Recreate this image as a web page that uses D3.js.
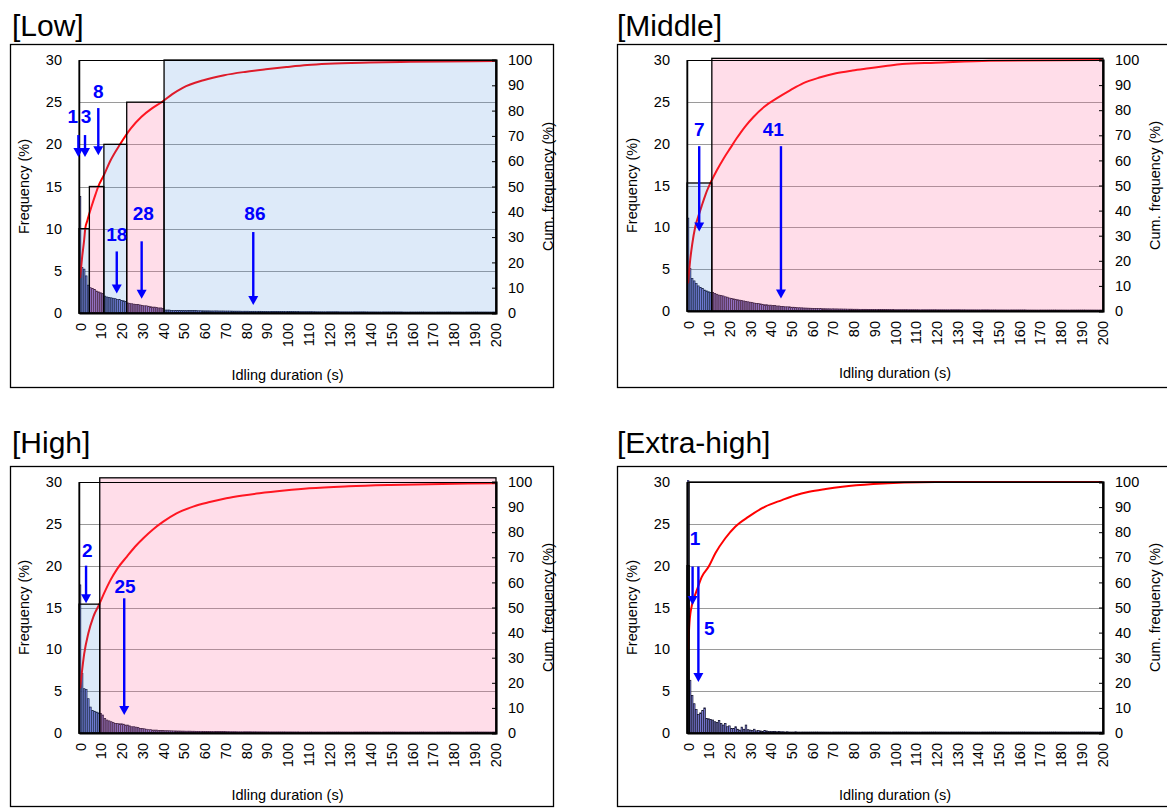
<!DOCTYPE html>
<html>
<head>
<meta charset="utf-8">
<script src="https://cdn.jsdelivr.net/npm/d3@7"></script>
<style>
  body { margin: 0; background: #fff; }
  svg text { font-family: Arial, "Liberation Sans", sans-serif; }
</style>
</head>
<body>
<svg id="chart" width="1167" height="809"></svg>
<script>
// ---- data ----
const panelTitles = ['[Low]', '[Middle]', '[High]', '[Extra-high]'];
const xTickLabels = [0, 10, 20, 30, 40, 50, 60, 70, 80, 90, 100, 110, 120, 130, 140, 150, 160, 170, 180, 190, 200];
const freqTicks = [0, 5, 10, 15, 20, 25, 30];
const cumTicks = [0, 10, 20, 30, 40, 50, 60, 70, 80, 90, 100];

// frequency (%) per 1 s bin, 0..200 s
const freqLow = [
  13.8, 5.4, 5.2, 4.4, 3.3, 3.0, 2.9, 2.8, 2.6, 2.5,
  2.4, 2.3, 2.0, 1.9, 1.85, 1.8, 1.75, 1.7, 1.6, 1.6,
  1.5, 1.45, 1.35, 1.2, 1.15, 1.1, 1.05, 1.0, 1.0, 0.95,
  0.9, 0.85, 0.85, 0.8, 0.75, 0.7, 0.7, 0.65, 0.6, 0.6,
  0.55, 0.35, 0.35, 0.35, 0.3, 0.3, 0.3, 0.3, 0.3, 0.3,
  0.3, 0.3, 0.3, 0.28, 0.28, 0.28, 0.28, 0.27, 0.27, 0.27,
  0.26, 0.26, 0.26, 0.25, 0.25, 0.25, 0.25, 0.24, 0.24, 0.24,
  0.23, 0.23, 0.23, 0.23, 0.22, 0.22, 0.22, 0.22, 0.21, 0.21,
  0.21, 0.21, 0.2, 0.2, 0.2, 0.2, 0.2, 0.2, 0.19, 0.19,
  0.19, 0.19, 0.19, 0.18, 0.18, 0.18, 0.18, 0.18, 0.18, 0.17,
  0.17, 0.17, 0.17, 0.17, 0.17, 0.17, 0.16, 0.16, 0.16, 0.16,
  0.16, 0.16, 0.16, 0.16, 0.15, 0.15, 0.15, 0.15, 0.15, 0.15,
  0.15, 0.15, 0.15, 0.15, 0.15, 0.14, 0.14, 0.14, 0.14, 0.14,
  0.14, 0.14, 0.14, 0.14, 0.14, 0.14, 0.14, 0.14, 0.13, 0.13,
  0.13, 0.13, 0.13, 0.13, 0.13, 0.13, 0.13, 0.13, 0.13, 0.13,
  0.13, 0.13, 0.13, 0.13, 0.13, 0.13, 0.12, 0.12, 0.12, 0.12,
  0.12, 0.12, 0.12, 0.12, 0.12, 0.12, 0.12, 0.12, 0.12, 0.12,
  0.12, 0.12, 0.12, 0.12, 0.12, 0.12, 0.12, 0.12, 0.12, 0.12,
  0.12, 0.12, 0.12, 0.12, 0.12, 0.12, 0.12, 0.12, 0.12, 0.12,
  0.12, 0.12, 0.12, 0.12, 0.12, 0.12, 0.12, 0.12, 0.12, 0.12,
  0.12
];
const freqMiddle = [
  11.1, 5.1, 3.9, 3.6, 3.3, 3.0, 2.8, 2.7, 2.5, 2.4,
  2.3, 2.2, 2.2, 2.1, 2.0, 1.9, 1.85, 1.8, 1.7, 1.65,
  1.55, 1.5, 1.45, 1.4, 1.35, 1.3, 1.25, 1.2, 1.15, 1.1,
  1.05, 1.0, 0.95, 0.9, 0.9, 0.85, 0.8, 0.75, 0.75, 0.7,
  0.7, 0.65, 0.65, 0.6, 0.6, 0.55, 0.55, 0.5, 0.5, 0.5,
  0.45, 0.45, 0.42, 0.4, 0.4, 0.38, 0.36, 0.35, 0.34, 0.33,
  0.32, 0.31, 0.3, 0.3, 0.29, 0.28, 0.28, 0.27, 0.27, 0.26,
  0.26, 0.25, 0.25, 0.24, 0.24, 0.23, 0.23, 0.22, 0.22, 0.22,
  0.21, 0.21, 0.21, 0.2, 0.2, 0.2, 0.2, 0.19, 0.19, 0.19,
  0.19, 0.18, 0.18, 0.18, 0.18, 0.17, 0.17, 0.17, 0.17, 0.17,
  0.16, 0.16, 0.16, 0.16, 0.16, 0.16, 0.16, 0.16, 0.16, 0.16,
  0.16, 0.16, 0.15, 0.15, 0.15, 0.15, 0.15, 0.15, 0.15, 0.15,
  0.15, 0.15, 0.15, 0.15, 0.15, 0.15, 0.15, 0.15, 0.15, 0.15,
  0.15, 0.15, 0.14, 0.14, 0.14, 0.14, 0.14, 0.14, 0.14, 0.14,
  0.14, 0.14, 0.14, 0.14, 0.14, 0.14, 0.13, 0.13, 0.13, 0.13,
  0.13, 0.13, 0.13, 0.13, 0.13, 0.13, 0.13, 0.13, 0.13, 0.13,
  0.13, 0.13, 0.13, 0.13, 0.12, 0.12, 0.12, 0.12, 0.12, 0.12,
  0.12, 0.12, 0.12, 0.12, 0.12, 0.12, 0.12, 0.12, 0.12, 0.12,
  0.12, 0.12, 0.12, 0.12, 0.12, 0.12, 0.12, 0.12, 0.12, 0.12,
  0.12, 0.12, 0.12, 0.12, 0.12, 0.12, 0.12, 0.12, 0.12, 0.12,
  0.12
];
const freqHigh = [
  17.7, 7.1, 5.3, 5.2, 4.1, 3.1, 2.7, 2.6, 2.5, 2.4,
  2.35, 2.15, 1.75, 1.55, 1.45, 1.35, 1.25, 1.15, 1.15, 1.1,
  1.1, 1.05, 0.95, 0.95, 0.85, 0.75, 0.75, 0.7, 0.65, 0.55,
  0.55, 0.5, 0.45, 0.4, 0.4, 0.35, 0.35, 0.35, 0.3, 0.3,
  0.3, 0.28, 0.28, 0.27, 0.26, 0.25, 0.25, 0.24, 0.24, 0.23,
  0.23, 0.22, 0.22, 0.22, 0.21, 0.21, 0.2, 0.2, 0.2, 0.2,
  0.19, 0.19, 0.19, 0.18, 0.18, 0.18, 0.18, 0.17, 0.17, 0.17,
  0.17, 0.16, 0.16, 0.16, 0.16, 0.16, 0.15, 0.15, 0.15, 0.15,
  0.15, 0.15, 0.15, 0.14, 0.14, 0.14, 0.14, 0.14, 0.14, 0.14,
  0.14, 0.14, 0.13, 0.13, 0.13, 0.13, 0.13, 0.13, 0.13, 0.13,
  0.13, 0.13, 0.13, 0.13, 0.13, 0.13, 0.12, 0.12, 0.12, 0.12,
  0.12, 0.12, 0.12, 0.12, 0.12, 0.12, 0.12, 0.12, 0.12, 0.12,
  0.12, 0.12, 0.12, 0.12, 0.12, 0.12, 0.12, 0.12, 0.12, 0.12,
  0.12, 0.12, 0.12, 0.12, 0.12, 0.12, 0.12, 0.12, 0.12, 0.12,
  0.12, 0.12, 0.12, 0.12, 0.12, 0.12, 0.12, 0.12, 0.12, 0.12,
  0.12, 0.12, 0.12, 0.12, 0.12, 0.12, 0.12, 0.12, 0.12, 0.12,
  0.12, 0.12, 0.12, 0.12, 0.12, 0.12, 0.12, 0.12, 0.12, 0.12,
  0.12, 0.12, 0.12, 0.12, 0.12, 0.12, 0.12, 0.12, 0.12, 0.12,
  0.12, 0.12, 0.12, 0.12, 0.12, 0.12, 0.12, 0.12, 0.12, 0.12,
  0.12, 0.12, 0.12, 0.12, 0.12, 0.12, 0.12, 0.12, 0.12, 0.12,
  0.12
];
const freqExtra = [
  33.0, 6.3, 4.5, 3.5, 2.8, 2.2, 2.4, 2.7, 3.0, 1.75,
  1.7, 1.6, 1.55, 1.35, 1.25, 1.5, 1.15, 0.95, 1.15, 0.75,
  0.85, 0.55, 0.55, 0.75, 0.45, 0.35, 0.7, 0.45, 0.95, 0.4,
  0.35, 0.3, 0.45, 0.25, 0.3, 0.25, 0.2, 0.3, 0.25, 0.2,
  0.2, 0.18, 0.2, 0.15, 0.18, 0.15, 0.15, 0.12, 0.15, 0.12,
  0.12, 0.12, 0.15, 0.12, 0.12, 0.12, 0.12, 0.12, 0.12, 0.12,
  0.12, 0.12, 0.12, 0.12, 0.12, 0.12, 0.12, 0.12, 0.12, 0.12,
  0.12, 0.12, 0.12, 0.12, 0.12, 0.12, 0.12, 0.12, 0.12, 0.12,
  0.12, 0.12, 0.12, 0.12, 0.12, 0.12, 0.12, 0.12, 0.12, 0.12,
  0.12, 0.12, 0.12, 0.12, 0.12, 0.12, 0.12, 0.12, 0.12, 0.12,
  0.12, 0.12, 0.12, 0.12, 0.12, 0.12, 0.12, 0.12, 0.12, 0.12,
  0.12, 0.12, 0.12, 0.12, 0.12, 0.12, 0.12, 0.12, 0.12, 0.12,
  0.12, 0.12, 0.12, 0.12, 0.12, 0.12, 0.12, 0.12, 0.12, 0.12,
  0.12, 0.12, 0.12, 0.12, 0.12, 0.12, 0.12, 0.12, 0.12, 0.12,
  0.12, 0.12, 0.12, 0.12, 0.12, 0.12, 0.12, 0.12, 0.12, 0.12,
  0.12, 0.12, 0.12, 0.12, 0.12, 0.12, 0.12, 0.12, 0.12, 0.12,
  0.12, 0.12, 0.12, 0.12, 0.12, 0.12, 0.12, 0.12, 0.12, 0.12,
  0.12, 0.12, 0.12, 0.12, 0.12, 0.12, 0.12, 0.12, 0.12, 0.12,
  0.12, 0.12, 0.12, 0.12, 0.12, 0.12, 0.12, 0.12, 0.12, 0.12,
  0.12, 0.12, 0.12, 0.12, 0.12, 0.12, 0.12, 0.12, 0.12, 0.12,
  0.12
];

// cumulative frequency (%): [duration position, %]
const cumLow = [[0.5, 13.8], [1.5, 22], [2.5, 29], [3, 33.3], [4, 36.5], [6, 42], [8, 47], [9.3, 50], [12, 54.5],
  [15, 60], [19.8, 66.7], [25, 73], [30, 77.5], [35, 80.8], [39.8, 83.3], [45, 86.5], [50, 89], [60, 92], [70, 94],
  [80, 95.3], [90, 96.3], [100, 97.2], [110, 98], [120, 98.5], [140, 99], [160, 99.3], [200.5, 99.6]];
const cumMiddle = [[0.5, 11], [1.5, 20], [2.5, 26.5], [4, 33.6], [5.5, 37.8], [7, 41.6], [9, 46.5], [11.9, 52],
  [14.5, 56.2], [17.5, 60.5], [21, 65], [24, 68.8], [28, 73.4], [32, 77.2], [37.5, 81.5], [43.3, 84.7], [50, 88],
  [56, 90.7], [64, 93], [72, 94.7], [80, 95.8], [88, 96.7], [96, 97.6], [104, 98.4], [120, 98.9], [146, 99.7], [200.5, 100]];
const cumHigh = [[0.5, 17.8], [1.5, 25], [2.5, 31.5], [4.5, 39.7], [6.9, 46.3], [9.8, 51.3], [12, 55.5], [14.9, 60.5],
  [18.5, 65.5], [23, 70.2], [27, 74.2], [31, 77.6], [35.5, 81], [40.6, 84.2], [47, 87.5], [55, 90.2], [63, 92], [71, 93.5],
  [79, 94.6], [87, 95.5], [99, 96.6], [111, 97.5], [130, 98.3], [150, 98.8], [175, 99.2], [200.5, 99.5]];
const cumExtra = [[0.5, 33.1], [1.2, 44], [2.4, 51], [3.5, 54], [4.8, 57], [7.2, 62.3], [10.5, 66.3], [13.7, 71.6],
  [18.5, 77.6], [23.3, 82.2], [29.8, 86.2], [37.8, 90.2], [45.9, 92.8], [52, 94.6], [59, 96.1], [67, 97.2], [75, 98.1],
  [90, 99.2], [105, 99.8], [120, 100], [200.5, 100]];

// shaded groups: [from, to, height (%), kind]
const boxesLow = [[0, 5, 10, 'b'], [5, 12, 15, 'p'], [12, 23, 20, 'b'], [23, 41, 25, 'p'], [41, 201, 30, 'b']];
const boxesMiddle = [[0, 12, 15.3, 'b'], [12, 201, 30.2, 'p']];
const boxesHigh = [[0, 10, 15.4, 'b'], [10, 201, 30.5, 'p']];
const boxesExtra = [[0, 1, 20, 'n'], [1, 201, 30, 'n']];

// mean-duration arrows: [label, label x, label y, arrow x, arrow from, arrow to]
const arrowsLow = [['1', -3.0, 23.3, -0.3, 21.1, 18.5], ['3', 3.4, 23.3, 2.9, 21.1, 18.5], ['8', 9.3, 26.3, 9.3, 24.3, 18.7],
  ['18', 18.2, 9.3, 18.2, 7.3, 2.3], ['28', 31, 11.8, 30.2, 8.5, 1.7], ['86', 84.8, 11.8, 84, 9.6, 0.95]];
const arrowsMiddle = [['7', 5.9, 21.7, 5.9, 19.7, 9.5], ['41', 41.7, 21.7, 45.4, 19.7, 1.5]];
const arrowsHigh = [['2', 4.0, 21.9, 3.4, 20, 15.5], ['25', 22.2, 17.6, 21.8, 16.1, 2.15]];
const arrowsExtra = [['1', 3.9, 23.3, 2.7, 19.9, 15.3], ['5', 10.8, 12.5, 5.5, 19.9, 6.1]];

// ---- layout ----
const layouts = [
  { box: [10, 44, 543, 343], title: [12, 36], x0: 79, x1: 496, yTop: 60, y0: 313 },
  { box: [617, 44, 560, 343], title: [617, 36], x0: 687, x1: 1103, yTop: 60, y0: 311 },
  { box: [10, 466, 543, 340], title: [12, 453], x0: 79, x1: 496, yTop: 482, y0: 733 },
  { box: [617, 466, 560, 340], title: [617, 453], x0: 687, x1: 1103, yTop: 482, y0: 733 }
];
const panels = [
  { title: panelTitles[0], freq: freqLow, cum: cumLow, boxes: boxesLow, arrows: arrowsLow },
  { title: panelTitles[1], freq: freqMiddle, cum: cumMiddle, boxes: boxesMiddle, arrows: arrowsMiddle },
  { title: panelTitles[2], freq: freqHigh, cum: cumHigh, boxes: boxesHigh, arrows: arrowsHigh },
  { title: panelTitles[3], freq: freqExtra, cum: cumExtra, boxes: boxesExtra, arrows: arrowsExtra }
];
const boxFill = { b: 'rgba(74,143,224,0.19)', p: 'rgba(255,102,153,0.22)', n: 'none' };
const FONT = 'Arial, "Liberation Sans", sans-serif';

const svg = d3.select('#chart');

function drawPanel(p, L, idx) {
  const g = svg.append('g');
  const [bx, by, bw, bh] = L.box;

  g.append('rect')
    .attr('x', bx + 0.5).attr('y', by + 0.5)
    .attr('width', bw).attr('height', bh)
    .attr('fill', 'none').attr('stroke', '#000').attr('stroke-width', 1.3);

  g.append('text')
    .attr('x', L.title[0]).attr('y', L.title[1])
    .attr('font-size', 30).attr('fill', '#000')
    .text(p.title);

  const x = d3.scaleLinear().domain([0, 201]).range([L.x0, L.x1]);
  const yF = d3.scaleLinear().domain([0, 30]).range([L.y0, L.yTop]);
  const yC = d3.scaleLinear().domain([0, 100]).range([L.y0, L.yTop]);

  g.append('rect')
    .attr('x', L.x0).attr('y', L.yTop)
    .attr('width', L.x1 - L.x0).attr('height', L.y0 - L.yTop)
    .attr('fill', '#fff');

  // gridlines
  g.append('g').selectAll('line')
    .data(freqTicks.slice(1, -1))
    .join('line')
    .attr('x1', L.x0).attr('x2', L.x1)
    .attr('y1', d => Math.round(yF(d)) + 0.5).attr('y2', d => Math.round(yF(d)) + 0.5)
    .attr('stroke', '#9a9a9a').attr('stroke-width', 1);

  const clipId = 'clip' + idx;
  g.append('clipPath').attr('id', clipId)
    .append('rect')
    .attr('x', L.x0).attr('y', L.yTop - 2)
    .attr('width', L.x1 - L.x0).attr('height', L.y0 - L.yTop + 2);

  // histogram
  const bw1 = x(1) - x(0);
  g.append('g').attr('clip-path', `url(#${clipId})`)
    .selectAll('rect')
    .data(p.freq)
    .join('rect')
    .attr('x', (d, i) => x(i) + bw1 * 0.12)
    .attr('width', bw1 * 0.76)
    .attr('y', d => yF(d))
    .attr('height', d => yF(0) - yF(d))
    .attr('fill', '#8585e8')
    .attr('stroke', '#0d0d26')
    .attr('stroke-width', 0.7);

  // cumulative line
  const line = d3.line()
    .x(d => x(d[0]))
    .y(d => yC(d[1]))
    .curve(d3.curveMonotoneX);
  g.append('path')
    .datum(p.cum)
    .attr('d', line)
    .attr('fill', 'none')
    .attr('stroke', '#ff0000')
    .attr('stroke-width', 2);

  // shaded groups
  g.append('g').selectAll('rect')
    .data(p.boxes)
    .join('rect')
    .attr('x', d => x(d[0]))
    .attr('width', d => x(d[1]) - x(d[0]))
    .attr('y', d => yF(d[2]))
    .attr('height', d => yF(0) - yF(d[2]))
    .attr('fill', d => boxFill[d[3]])
    .attr('stroke', '#000')
    .attr('stroke-width', 1.3);

  // plot frame
  g.append('rect')
    .attr('x', L.x0).attr('y', L.yTop + 0.5)
    .attr('width', L.x1 - L.x0).attr('height', L.y0 - L.yTop)
    .attr('fill', 'none').attr('stroke', '#000').attr('stroke-width', 1);

  // left axis
  const ax = g.append('g')
    .attr('transform', `translate(${L.x0},0)`)
    .call(d3.axisLeft(yF).tickValues(freqTicks).tickSize(0).tickPadding(17));
  ax.select('.domain').attr('stroke', '#000').attr('stroke-width', 1.5);
  ax.selectAll('text').attr('font-size', 14.5).attr('fill', '#000').style('font-family', FONT);

  // right axis
  const ar = g.append('g')
    .attr('transform', `translate(${L.x1},0)`)
    .call(d3.axisRight(yC).tickValues(cumTicks).tickSize(-4).tickPadding(12));
  ar.select('.domain').attr('stroke', '#000').attr('stroke-width', 2.2);
  ar.selectAll('.tick line').attr('stroke', '#000');
  ar.selectAll('text').attr('font-size', 14.5).attr('fill', '#000').style('font-family', FONT);

  // bottom axis
  const ab = g.append('g')
    .attr('transform', `translate(0,${L.y0})`)
    .call(d3.axisBottom(x).tickValues(xTickLabels.map(v => v + 0.5)).tickFormat(v => String(v - 0.5)).tickSize(0));
  ab.select('.domain').attr('stroke', '#000').attr('stroke-width', 2.2);
  ab.selectAll('text')
    .attr('transform', 'rotate(-90)')
    .attr('x', -10).attr('y', 0).attr('dy', '0.35em')
    .attr('text-anchor', 'end')
    .attr('font-size', 14.5).attr('fill', '#000')
    .style('font-family', FONT);

  // axis titles
  const midY = (L.y0 + L.yTop) / 2;
  g.append('text')
    .attr('transform', `translate(${L.x0 - 55},${midY}) rotate(-90)`)
    .attr('text-anchor', 'middle').attr('dy', '0.35em')
    .attr('font-size', 14.5).text('Frequency (%)');
  g.append('text')
    .attr('transform', `translate(${L.x1 + 52},${midY}) rotate(-90)`)
    .attr('text-anchor', 'middle').attr('dy', '0.35em')
    .attr('font-size', 14.5).text('Cum. frequency (%)');
  g.append('text')
    .attr('x', (L.x0 + L.x1) / 2).attr('y', L.y0 + 62)
    .attr('text-anchor', 'middle').attr('dy', '0.35em')
    .attr('font-size', 14.5).text('Idling duration (s)');

  // arrows
  const ag = g.append('g');
  p.arrows.forEach(a => {
    const [lab, lx, ly, axv, y1, y2] = a;
    const px = x(axv);
    const tip = yF(y2);
    ag.append('line')
      .attr('x1', px).attr('x2', px)
      .attr('y1', yF(y1)).attr('y2', tip - 8)
      .attr('stroke', '#0000ff').attr('stroke-width', 2.4);
    ag.append('path')
      .attr('d', `M${px - 5},${tip - 9}L${px + 5},${tip - 9}L${px},${tip}Z`)
      .attr('fill', '#0000ff');
    ag.append('text')
      .attr('x', x(lx)).attr('y', yF(ly))
      .attr('text-anchor', 'middle').attr('dy', '0.36em')
      .attr('font-size', 19).attr('font-weight', 'bold')
      .attr('fill', '#0000ff')
      .text(lab);
  });
}

panels.forEach((p, i) => drawPanel(p, layouts[i], i));
</script>
</body>
</html>
